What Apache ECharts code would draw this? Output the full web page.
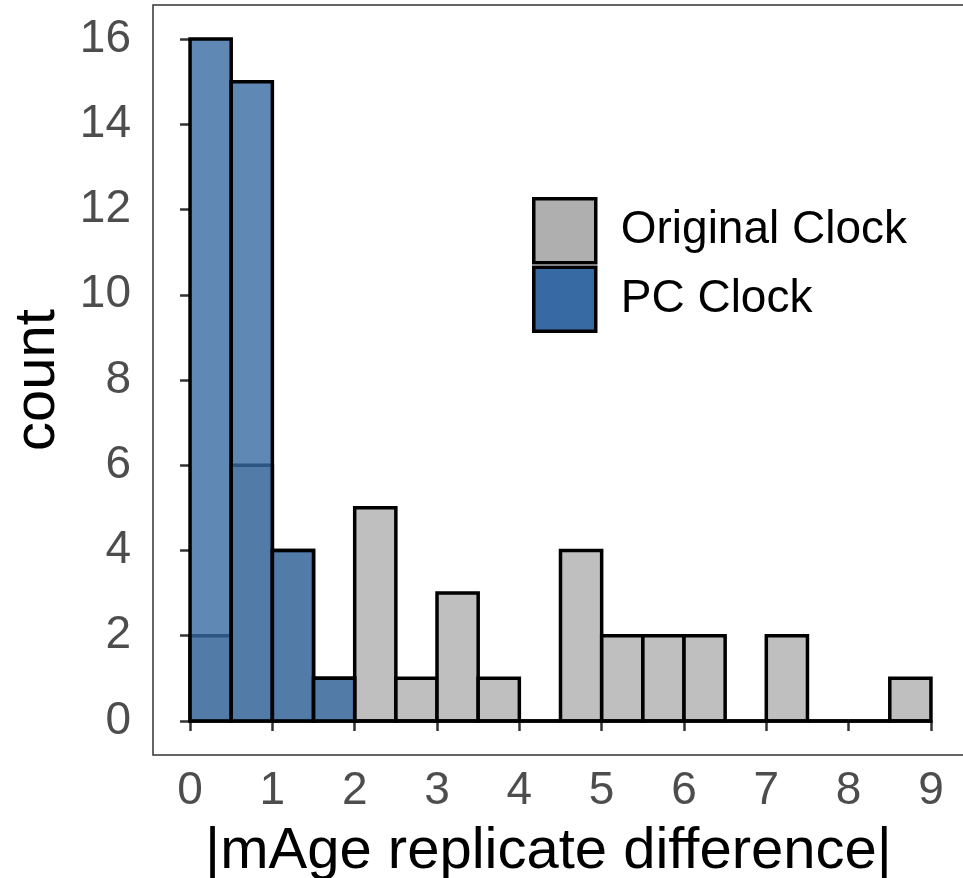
<!DOCTYPE html>
<html>
<head>
<meta charset="utf-8">
<script src="https://cdn.jsdelivr.net/npm/echarts@6/dist/echarts.min.js"></script>
<style>
  html, body { margin: 0; padding: 0; background: #fff; }
  #chart { width: 963px; height: 878px; }
</style>
</head>
<body>
<div id="chart"></div>
<script>
// Histogram bins of |mAge replicate difference| (bin width 0.5)
const binStarts = [0, 0.5, 1, 1.5, 2, 2.5, 3, 3.5, 4, 4.5, 5, 5.5, 6, 6.5, 7, 7.5, 8, 8.5];
const binEnds   = [0.5, 1, 1.5, 2, 2.5, 3, 3.5, 4, 4.5, 5, 5.5, 6, 6.5, 7, 7.5, 8, 8.5, 9];
const originalCounts = [2, 6, 4, 1, 5, 1, 3, 1, 0, 4, 2, 2, 2, 0, 2, 0, 0, 1];
const pcCounts       = [16, 15, 4, 1, 0, 0, 0, 0, 0, 0, 0, 0, 0, 0, 0, 0, 0, 0];
const xTicks = [0, 1, 2, 3, 4, 5, 6, 7, 8, 9];
const yTicks = [0, 2, 4, 6, 8, 10, 12, 14, 16];
const seriesNames = ['Original Clock', 'PC Clock'];

// solid key colours and their translucent bar fills (alpha 0.8)
const GRAY = '#afafaf';
const BLUE = '#376aa2';
const GRAY_FILL = 'rgba(175,175,175,0.8)';
const BLUE_FILL = 'rgba(55,106,162,0.8)';
const EDGE = 3.5;

function toRows(counts) {
  return counts.map((c, i) => [binStarts[i], binEnds[i], c]);
}

function makeRenderer(fill) {
  return function (params, api) {
    const x0 = api.value(0), x1 = api.value(1), c = api.value(2);
    const p0 = api.coord([x0, 0]);
    const p1 = api.coord([x1, c]);
    if (c === 0) {
      return {
        type: 'line',
        shape: { x1: p0[0], y1: p0[1], x2: p1[0], y2: p0[1] },
        style: { stroke: '#000', lineWidth: EDGE }
      };
    }
    return {
      type: 'rect',
      shape: { x: p0[0], y: p1[1], width: p1[0] - p0[0], height: p0[1] - p1[1] },
      style: { fill: fill, stroke: '#000', lineWidth: EDGE }
    };
  };
}

const FONT = 'Liberation Sans, Arial, Helvetica, sans-serif';

const chart = echarts.init(document.getElementById('chart'), null, { renderer: 'canvas' });
chart.setOption({
  animation: false,
  backgroundColor: '#ffffff',
  grid: {
    left: 153, top: 5, width: 815, height: 750,
    containLabel: false,
    outerBoundsMode: 'none',
    show: true, borderColor: '#333333', borderWidth: 1.5,
    backgroundColor: 'transparent'
  },
  legend: {
    orient: 'vertical',
    left: 527, top: 192,
    itemWidth: 62, itemHeight: 64, itemGap: 1,
    icon: 'rect',
    textStyle: { fontFamily: FONT, fontSize: 46, color: '#000', padding: [0, 0, 0, 20] },
    data: [
      { name: seriesNames[0], itemStyle: { color: GRAY, borderColor: '#000', borderWidth: EDGE } },
      { name: seriesNames[1], itemStyle: { color: BLUE, borderColor: '#000', borderWidth: EDGE } }
    ]
  },
  xAxis: {
    type: 'value',
    min: -0.45, max: 9.45,
    splitLine: { show: false },
    axisLine: { show: false },
    axisTick: { show: true, length: 10, customValues: xTicks, lineStyle: { color: '#333', width: 2.5 } },
    axisLabel: { customValues: xTicks, margin: 13, fontFamily: FONT, fontSize: 46, color: '#4d4d4d' },
    name: '|mAge replicate difference|',
    nameLocation: 'middle',
    nameGap: 68,
    nameTextStyle: { fontFamily: FONT, fontSize: 58, color: '#000', padding: [0, 24, 0, 0] }
  },
  yAxis: {
    type: 'value',
    min: -0.8, max: 16.8,
    splitLine: { show: false },
    axisLine: { show: false },
    axisTick: { show: true, length: 10, customValues: yTicks, lineStyle: { color: '#333', width: 2.5 } },
    axisLabel: { customValues: yTicks, margin: 22, fontFamily: FONT, fontSize: 46, color: '#4d4d4d' },
    name: 'count',
    nameLocation: 'middle',
    nameGap: 86,
    nameTextStyle: { fontFamily: FONT, fontSize: 58, color: '#000' }
  },
  series: [
    {
      name: seriesNames[0],
      type: 'custom',
      renderItem: makeRenderer(GRAY_FILL),
      itemStyle: { color: GRAY },
      encode: { x: [0, 1], y: 2 },
      data: toRows(originalCounts),
      z: 2
    },
    {
      name: seriesNames[1],
      type: 'custom',
      renderItem: makeRenderer(BLUE_FILL),
      itemStyle: { color: BLUE },
      encode: { x: [0, 1], y: 2 },
      data: toRows(pcCounts),
      z: 3
    }
  ]
});
</script>
</body>
</html>
